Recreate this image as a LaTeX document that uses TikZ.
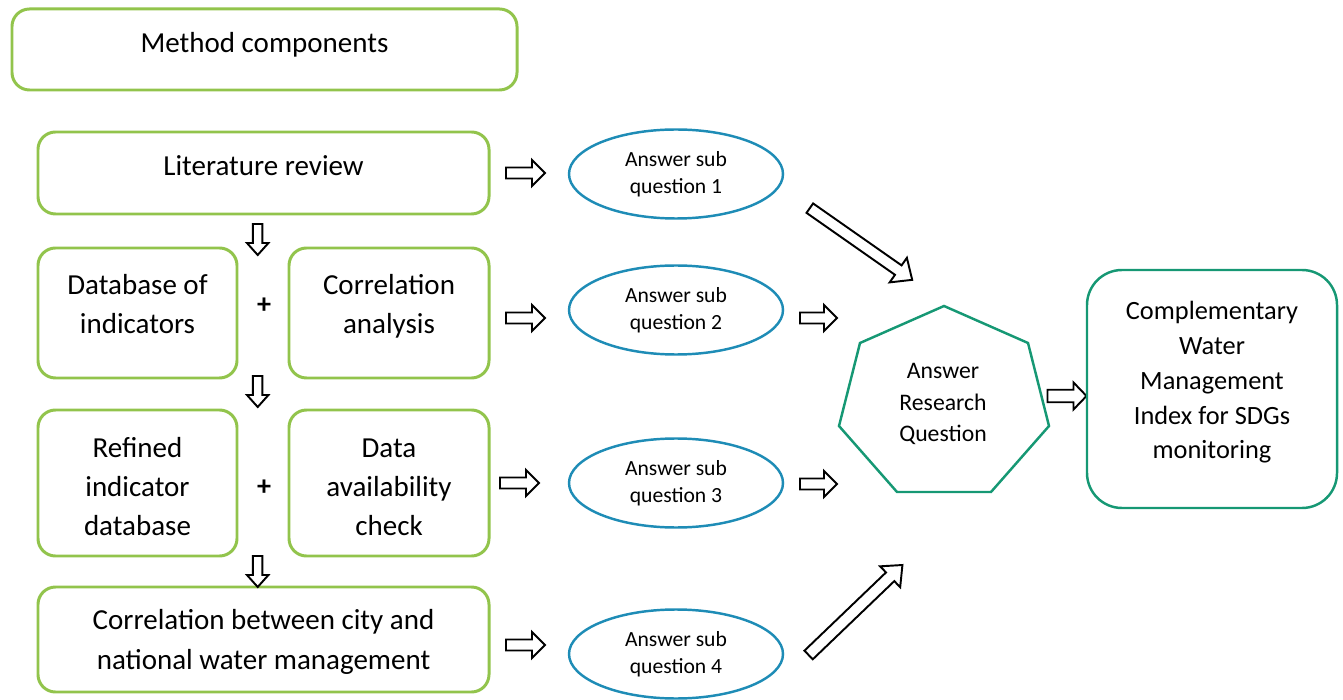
\documentclass[tikz,border=0pt]{standalone}
\usepackage{fontspec}
\setmainfont{Carlito}
\usetikzlibrary{shapes.geometric}
\definecolor{boxgreen}{RGB}{146,196,76}
\definecolor{ellblue}{RGB}{30,140,182}
\definecolor{resteal}{RGB}{22,152,116}
\tikzset{
  methodbox/.style={draw=boxgreen,line width=1.7pt,rounded corners=3.5mm,inner sep=0pt},
  boxtext/.style={align=center,inner sep=0pt,font=\fontsize{16.5}{22.3}\selectfont},
  answer/.style={ellipse,draw=ellblue,line width=1.4pt,minimum width=42.8mm,minimum height=17.8mm,
    inner sep=0pt,align=center,font=\fontsize{12.3}{15.5}\selectfont},
  arrowline/.style={draw,line width=1.1pt,fill=white,line join=miter}
}
% hollow block arrow: centre, angle, length, shaft, head, head length
\newcommand{\blkarrow}[6]{%
  \draw[arrowline,shift={#1},rotate=#2] (-#3/2,-#4/2) -- (#3/2-#6,-#4/2) -- (#3/2-#6,-#5/2)
    -- (#3/2,0) -- (#3/2-#6,#5/2) -- (#3/2-#6,#4/2) -- (-#3/2,#4/2) -- cycle;}
\begin{document}
\begin{tikzpicture}[x=0.2mm,y=-0.2mm]
  \useasboundingbox (0,0) rectangle (1343,700);
  % method components, left column
  \node[methodbox,minimum width=101mm,minimum height=16.2mm] (method) at (264.5,49.5) {};
  \node[boxtext] (methodtxt) at (264.5,44.5) {Method components};
  \node[methodbox,minimum width=90.2mm,minimum height=16.4mm] (litrev) at (263.5,173) {};
  \node[boxtext] (litrevtxt) at (263.5,166) {Literature review};
  \node[methodbox,minimum width=39.8mm,minimum height=26mm] (dbind) at (137.5,313) {};
  \node[boxtext] (dbindtxt) at (137.5,304) {Database of\\indicators};
  \node[methodbox,minimum width=40mm,minimum height=26mm] (corran) at (389,313) {};
  \node[boxtext] (corrantxt) at (389,306) {Correlation\\analysis};
  \node[methodbox,minimum width=39.8mm,minimum height=29.2mm] (refdb) at (137.5,483) {};
  \node[boxtext] (refdbtxt) at (137.5,486.5) {Refined\\indicator\\database};
  \node[methodbox,minimum width=40mm,minimum height=29.2mm] (avail) at (389,483) {};
  \node[boxtext] (availtxt) at (389,487) {Data\\availability\\check};
  \node[methodbox,minimum width=90.2mm,minimum height=21mm] (citynat) at (263.5,639.5) {};
  \node[boxtext] (citynattxt) at (263.5,642) {Correlation between city and\\national water management};
  \node[font=\fontsize{16}{18}\selectfont\bfseries] (plusA) at (264,306) {+};
  \node[font=\fontsize{16}{18}\selectfont\bfseries] (plusB) at (264,488) {+};
  \blkarrow{(257.7,239.5)}{-90}{31}{9.5}{21.5}{12}
  \blkarrow{(257.7,391.5)}{-90}{31}{9.5}{21.5}{12}
  \blkarrow{(257.7,571.5)}{-90}{31}{9.5}{21.5}{12}
  % sub questions
  \node[answer] (subqA) at (676,174) {Answer sub\\question 1};
  \node[answer] (subqB) at (676,310) {Answer sub\\question 2};
  \node[answer] (subqC) at (676,483) {Answer sub\\question 3};
  \node[answer] (subqD) at (676,654) {Answer sub\\question 4};
  \blkarrow{(525.5,173)}{0}{39}{11}{26}{13}
  \blkarrow{(525.5,318)}{0}{39}{11}{26}{13}
  \blkarrow{(519.5,483)}{0}{39}{11}{26}{13}
  \blkarrow{(525.5,645)}{0}{39}{11}{26}{13}
  % research question
  \draw[resteal,line width=1.4pt] (944,306) -- (1028,343) -- (1049,426) -- (991,492)
    -- (897,492) -- (839,426) -- (860,343) -- cycle;
  \node[align=center,font=\fontsize{13.5}{17.9}\selectfont] (resq) at (943,404) {Answer\\Research\\Question};
  \blkarrow{(818.5,318)}{0}{37}{11}{26}{13}
  \blkarrow{(818.5,484)}{0}{37}{11}{26}{13}
  \blkarrow{(861,244)}{-35}{125}{11.5}{30}{17}
  \blkarrow{(855.5,610)}{43.8}{130}{12}{29}{17}
  % final index
  \blkarrow{(1067,396)}{0}{39}{12.5}{27}{13}
  \node[draw=resteal,line width=1.4pt,rounded corners=7mm,minimum width=50mm,minimum height=47.6mm,
    inner sep=0pt] (wmi) at (1212,389) {};
  \node[align=center,font=\fontsize{15}{19.8}\selectfont] (wmitxt) at (1212,382.5)
    {Complementary\\Water\\Management\\Index for SDGs\\monitoring};
\end{tikzpicture}
\end{document}
